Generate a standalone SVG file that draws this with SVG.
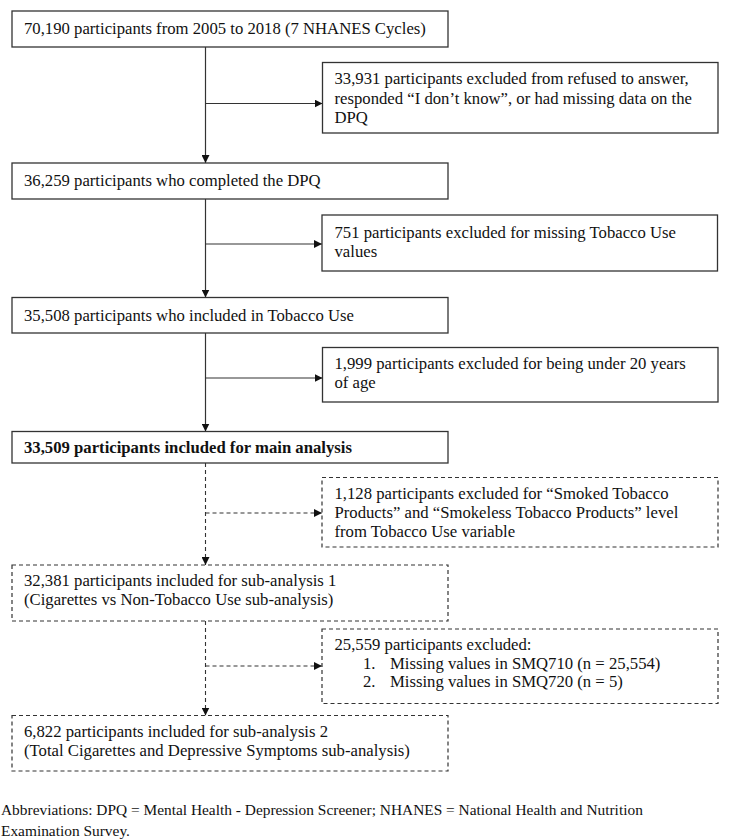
<svg xmlns="http://www.w3.org/2000/svg" width="732" height="840" viewBox="0 0 732 840">
<defs>
<style>
.box{fill:#fff;stroke:#333;stroke-width:1.3}
.dbox{fill:#fff;stroke:#333;stroke-width:1.2;stroke-dasharray:4 3}
.t{font-family:"Liberation Serif","Times New Roman",serif;font-size:16.7px;fill:#111}
.b{font-weight:bold}
.ln{fill:none;stroke:#333;stroke-width:1.2}
.dl{fill:none;stroke:#333;stroke-width:1.1;stroke-dasharray:4 3}
.ab{font-family:"Liberation Serif","Times New Roman",serif;font-size:15.4px;fill:#111}
</style>
<marker id="ah" viewBox="0 0 10 10" refX="10" refY="5" markerWidth="8" markerHeight="8" markerUnits="userSpaceOnUse" orient="auto">
<path d="M0,0 L10,5 L0,10 z" fill="#111"/>
</marker>
</defs>
<rect width="732" height="840" fill="#fff"/>
<g id="connectors">
<line class="ln" x1="205.5" y1="47" x2="205.5" y2="163" marker-end="url(#ah)"/>
<line class="ln" x1="205.5" y1="103.5" x2="322.5" y2="103.5" marker-end="url(#ah)"/>
<line class="ln" x1="205.5" y1="199" x2="205.5" y2="297.5" marker-end="url(#ah)"/>
<line class="ln" x1="205.5" y1="244" x2="322" y2="244" marker-end="url(#ah)"/>
<line class="ln" x1="205.5" y1="333" x2="205.5" y2="431.5" marker-end="url(#ah)"/>
<line class="ln" x1="205.5" y1="378" x2="322.5" y2="378" marker-end="url(#ah)"/>
<line class="dl" x1="205.5" y1="463" x2="205.5" y2="565" marker-end="url(#ah)"/>
<line class="dl" x1="205.5" y1="513" x2="322" y2="513" marker-end="url(#ah)"/>
<line class="dl" x1="205.5" y1="621" x2="205.5" y2="715.5" marker-end="url(#ah)"/>
<line class="dl" x1="205.5" y1="666" x2="322" y2="666" marker-end="url(#ah)"/>
</g>
<g id="n1">
<rect class="box" x="12" y="11" width="436" height="36"/>
<text class="t" x="24" y="34">70,190 participants from 2005 to 2018 (7 NHANES Cycles)</text>
</g>
<g id="n2">
<rect class="box" x="322.5" y="62.5" width="395.5" height="70.5"/>
<text class="t" x="334.5" y="84.3">33,931 participants excluded from refused to answer,</text>
<text class="t" x="334.5" y="103.6">responded “I don’t know”, or had missing data on the</text>
<text class="t" x="334.5" y="122.8">DPQ</text>
</g>
<g id="n3">
<rect class="box" x="12" y="163" width="436" height="36"/>
<text class="t" x="24" y="186">36,259 participants who completed the DPQ</text>
</g>
<g id="n4">
<rect class="box" x="322" y="215" width="395.5" height="56"/>
<text class="t" x="334.5" y="237.5">751 participants excluded for missing Tobacco Use</text>
<text class="t" x="334.5" y="256.5">values</text>
</g>
<g id="n5">
<rect class="box" x="12" y="297.5" width="436" height="35.5"/>
<text class="t" x="24" y="320.5">35,508 participants who included in Tobacco Use</text>
</g>
<g id="n6">
<rect class="box" x="322.5" y="347.5" width="395.5" height="54.5"/>
<text class="t" x="334.5" y="369">1,999 participants excluded for being under 20 years</text>
<text class="t" x="334.5" y="388">of age</text>
</g>
<g id="n7">
<rect class="box" x="12" y="431.5" width="436" height="31.5"/>
<text class="t b" x="24" y="453">33,509 participants included for main analysis</text>
</g>
<g id="n8">
<rect class="dbox" x="322" y="477.5" width="396" height="69.5"/>
<text class="t" x="334.5" y="498.5">1,128 participants excluded for “Smoked Tobacco</text>
<text class="t" x="334.5" y="517.5">Products” and “Smokeless Tobacco Products” level</text>
<text class="t" x="334.5" y="537">from Tobacco Use variable</text>
</g>
<g id="n9">
<rect class="dbox" x="12" y="565" width="436" height="56"/>
<text class="t" x="24" y="586">32,381 participants included for sub-analysis 1</text>
<text class="t" x="24" y="605">(Cigarettes vs Non-Tobacco Use sub-analysis)</text>
</g>
<g id="n10">
<rect class="dbox" x="322" y="629" width="396" height="74.5"/>
<text class="t" x="334.5" y="650">25,559 participants excluded:</text>
<text class="t" x="363" y="668.5">1.</text>
<text class="t" x="390" y="668.5">Missing values in SMQ710 (n = 25,554)</text>
<text class="t" x="363" y="687">2.</text>
<text class="t" x="390" y="687">Missing values in SMQ720 (n = 5)</text>
</g>
<g id="n11">
<rect class="dbox" x="12" y="715.5" width="436" height="55.5"/>
<text class="t" x="24" y="737">6,822 participants included for sub-analysis 2</text>
<text class="t" x="24" y="756">(Total Cigarettes and Depressive Symptoms sub-analysis)</text>
</g>
<g id="footnote">
<text class="ab" x="1" y="815">Abbreviations: DPQ = Mental Health - Depression Screener; NHANES = National Health and Nutrition</text>
<text class="ab" x="1" y="836">Examination Survey.</text>
</g>
</svg>
